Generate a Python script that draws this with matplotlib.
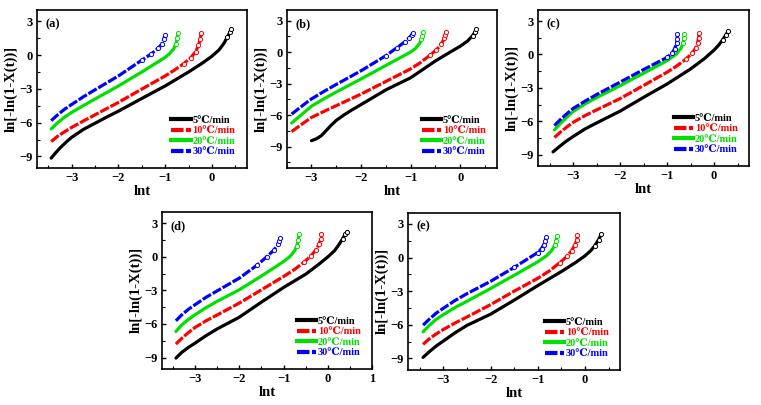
import matplotlib.pyplot as plt
from matplotlib.lines import Line2D
from matplotlib.ticker import MultipleLocator

plt.rcParams['font.family'] = ['Liberation Serif', 'DejaVu Serif', 'DejaVu Sans']
plt.rcParams['font.weight'] = 'bold'

labels = ['5\u2103/min', '10\u2103/min', '20\u2103/min', '30\u2103/min']
colors = ['black', 'red', '#00e000', 'blue']

# panel (a)
a_x5 = [-3.44, -3.35, -3.25, -3.1, -3.0, -2.75, -2.5, -2.25, -2.0, -1.5, -1.0, -0.5, -0.2, 0.0, 0.15, 0.25, 0.33, 0.39, 0.41]
a_y5 = [-9.15, -8.7, -8.25, -7.65, -7.3, -6.6, -6.05, -5.5, -4.98, -3.85, -2.74, -1.5, -0.7, -0.1, 0.45, 1.0, 1.6, 2.05, 2.3]
a_x10 = [-3.44, -3.3, -3.15, -3.0, -2.75, -2.5, -2.0, -1.5, -1.0, -0.8, -0.6, -0.45, -0.35, -0.29, -0.25, -0.23]
a_y10 = [-7.68, -7.2, -6.8, -6.42, -5.85, -5.3, -4.2, -3.02, -1.85, -1.33, -0.75, -0.22, 0.3, 0.85, 1.4, 1.95]
a_x20 = [-3.44, -3.3, -3.15, -3.0, -2.75, -2.5, -2.0, -1.5, -1.0, -0.9, -0.82, -0.77, -0.74, -0.73]
a_y20 = [-6.56, -6.0, -5.5, -5.09, -4.48, -3.9, -2.74, -1.5, -0.2, 0.15, 0.55, 1.0, 1.5, 1.95]
a_x30 = [-3.44, -3.3, -3.15, -3.0, -2.75, -2.5, -2.0, -1.5, -1.3, -1.15, -1.07, -1.03, -1.01]
a_y30 = [-5.82, -5.3, -4.8, -4.38, -3.7, -3.08, -1.85, -0.45, 0.1, 0.6, 1.0, 1.4, 1.74]

# panel (b)
b_x5 = [-3.0, -2.9, -2.8, -2.7, -2.6, -2.5, -2.35, -2.2, -2.0, -1.5, -1.0, -0.5, -0.2, 0.0, 0.15, 0.25, 0.3, 0.32]
b_y5 = [-8.43, -8.25, -7.95, -7.45, -6.95, -6.5, -6.0, -5.55, -5.0, -3.6, -2.45, -0.85, 0.0, 0.55, 1.05, 1.55, 1.9, 2.15]
b_x10 = [-3.4, -3.25, -3.1, -3.0, -2.75, -2.5, -2.0, -1.5, -1.0, -0.8, -0.61, -0.48, -0.38, -0.32, -0.3, -0.29]
b_y10 = [-7.57, -7.05, -6.55, -6.22, -5.65, -5.1, -4.0, -2.8, -1.6, -1.0, -0.3, 0.2, 0.75, 1.3, 1.65, 1.95]
b_x20 = [-3.4, -3.25, -3.1, -3.0, -2.75, -2.5, -2.0, -1.5, -1.0, -0.9, -0.82, -0.78, -0.76, -0.75]
b_y20 = [-6.75, -6.15, -5.55, -5.15, -4.45, -3.8, -2.56, -1.28, 0.0, 0.35, 0.8, 1.2, 1.55, 1.9]
b_x30 = [-3.4, -3.25, -3.1, -3.0, -2.75, -2.5, -2.0, -1.5, -1.28, -1.12, -1.03, -0.98, -0.96]
b_y30 = [-5.9, -5.35, -4.8, -4.46, -3.75, -3.08, -1.78, -0.35, 0.4, 0.95, 1.35, 1.62, 1.83]

# panel (c)
c_x5 = [-3.43, -3.3, -3.15, -3.0, -2.75, -2.5, -2.0, -1.5, -1.0, -0.5, -0.2, 0.0, 0.1, 0.18, 0.25, 0.3]
c_y5 = [-8.76, -8.3, -7.8, -7.37, -6.7, -6.15, -5.09, -3.85, -2.65, -1.3, -0.35, 0.4, 0.85, 1.3, 1.75, 2.1]
c_x10 = [-3.4, -3.25, -3.1, -3.0, -2.75, -2.5, -2.0, -1.5, -1.0, -0.8, -0.6, -0.47, -0.39, -0.35, -0.33, -0.32]
c_y10 = [-7.46, -6.9, -6.4, -6.1, -5.5, -4.98, -3.96, -2.78, -1.59, -1.05, -0.41, 0.1, 0.6, 1.05, 1.5, 1.9]
c_x20 = [-3.4, -3.25, -3.1, -3.0, -2.75, -2.5, -2.0, -1.5, -1.0, -0.8, -0.7, -0.66, -0.645, -0.64]
c_y20 = [-6.78, -6.1, -5.5, -5.12, -4.45, -3.88, -2.8, -1.68, -0.56, 0.05, 0.6, 1.05, 1.45, 1.81]
c_x30 = [-3.4, -3.25, -3.1, -3.0, -2.75, -2.5, -2.0, -1.5, -1.0, -0.9, -0.84, -0.8, -0.785, -0.78]
c_y30 = [-6.39, -5.75, -5.2, -4.85, -4.2, -3.6, -2.48, -1.35, -0.26, 0.1, 0.5, 1.0, 1.4, 1.81]

# panel (d)
d_x5 = [-3.43, -3.3, -3.15, -3.0, -2.75, -2.5, -2.0, -1.5, -1.0, -0.5, -0.2, 0.0, 0.15, 0.25, 0.33, 0.39, 0.44]
d_y5 = [-9.05, -8.55, -8.1, -7.72, -7.05, -6.45, -5.4, -4.05, -2.74, -1.55, -0.65, 0.0, 0.55, 1.1, 1.6, 2.0, 2.25]
d_x10 = [-3.43, -3.3, -3.15, -3.0, -2.75, -2.5, -2.0, -1.5, -1.0, -0.75, -0.53, -0.38, -0.27, -0.2, -0.16, -0.15]
d_y10 = [-7.8, -7.3, -6.78, -6.32, -5.72, -5.2, -4.14, -2.95, -1.76, -1.12, -0.45, 0.1, 0.62, 1.15, 1.6, 2.0]
d_x20 = [-3.43, -3.3, -3.15, -3.0, -2.75, -2.5, -2.0, -1.5, -1.0, -0.85, -0.75, -0.7, -0.67, -0.65]
d_y20 = [-6.67, -6.1, -5.6, -5.18, -4.55, -3.98, -2.95, -1.72, -0.42, 0.05, 0.55, 1.0, 1.5, 2.02]
d_x30 = [-3.43, -3.3, -3.15, -3.0, -2.75, -2.5, -2.0, -1.6, -1.38, -1.22, -1.13, -1.1, -1.08]
d_y30 = [-5.72, -5.2, -4.7, -4.29, -3.62, -3.05, -1.91, -0.75, 0.0, 0.6, 1.1, 1.45, 1.72]

# panel (e)
e_x5 = [-3.43, -3.3, -3.15, -3.0, -2.75, -2.5, -2.0, -1.5, -1.0, -0.5, -0.2, 0.0, 0.12, 0.21, 0.29, 0.35]
e_y5 = [-8.9, -8.4, -7.88, -7.44, -6.7, -6.05, -5.05, -3.8, -2.5, -1.25, -0.45, 0.15, 0.6, 1.05, 1.6, 2.1]
e_x10 = [-3.43, -3.3, -3.15, -3.0, -2.75, -2.5, -2.0, -1.5, -1.0, -0.75, -0.53, -0.38, -0.28, -0.21, -0.17, -0.16]
e_y10 = [-7.74, -7.25, -6.8, -6.41, -5.83, -5.3, -4.2, -3.0, -1.85, -1.18, -0.45, 0.1, 0.62, 1.15, 1.6, 2.03]
e_x20 = [-3.43, -3.3, -3.15, -3.0, -2.75, -2.5, -2.0, -1.5, -1.0, -0.8, -0.7, -0.64, -0.61, -0.6]
e_y20 = [-6.62, -6.05, -5.5, -5.09, -4.45, -3.9, -2.76, -1.58, -0.38, 0.2, 0.65, 1.1, 1.5, 1.91]
e_x30 = [-3.43, -3.3, -3.15, -3.0, -2.75, -2.5, -2.0, -1.5, -1.0, -0.92, -0.87, -0.84, -0.82]
e_y30 = [-6.03, -5.5, -4.95, -4.52, -3.82, -3.22, -2.12, -0.88, 0.45, 0.8, 1.15, 1.5, 1.82]

panels = [
    ('(a)', [(a_x5, a_y5), (a_x10, a_y10), (a_x20, a_y20), (a_x30, a_y30)], (-3.75, 0.75), (-10, 4), [36.7, 10, 247, 167.7]),
    ('(b)', [(b_x5, b_y5), (b_x10, b_y10), (b_x20, b_y20), (b_x30, b_y30)], (-3.5, 0.75), (-11, 4), [286.7, 10, 497.3, 167.7]),
    ('(c)', [(c_x5, c_y5), (c_x10, c_y10), (c_x20, c_y20), (c_x30, c_y30)], (-3.75, 0.75), (-10, 4), [538, 10, 749.3, 165.7]),
    ('(d)', [(d_x5, d_y5), (d_x10, d_y10), (d_x20, d_y20), (d_x30, d_y30)], (-3.75, 1.0), (-10, 4), [161.7, 212, 372.3, 368.7]),
    ('(e)', [(e_x5, e_y5), (e_x10, e_y10), (e_x20, e_y20), (e_x30, e_y30)], (-3.75, 0.75), (-10, 4), [408, 212.7, 620.3, 369.7]),
]

W, H = 761, 405
fig = plt.figure(figsize=(W / 100, H / 100), dpi=100)

styles = ['-', (0, (3, 0.6)), '-', (0, (3, 0.6))]
n_mark = [3, 6, 3, 6]

for tag, series, xl, yl, box in panels:
    l, t, r, b = box
    ax = fig.add_axes([l / W, 1 - b / H, (r - l) / W, (b - t) / H])
    for (x, y), c, ls, k in zip(series, colors, styles, n_mark):
        ax.plot(x, y, color=c, lw=2.3, ls=ls, solid_capstyle='round')
        n = len(x)
        ax.plot(x, y, ls='none', marker='o', ms=3, mfc='white', mec=c, mew=0.7,
                markevery=list(range(n - k, n)))
    ax.set_xlim(xl)
    ax.set_ylim(yl)
    ax.xaxis.set_major_locator(MultipleLocator(1))
    ax.xaxis.set_minor_locator(MultipleLocator(0.5))
    ax.yaxis.set_major_locator(MultipleLocator(3))
    ax.yaxis.set_minor_locator(MultipleLocator(1.5))
    ax.tick_params(which='both', direction='in', top=False, right=False, labelsize=9, pad=3)
    ax.tick_params(which='major', length=3, width=1)
    ax.tick_params(which='minor', length=2, width=0.8)
    for s in ax.spines.values():
        s.set_linewidth(1.2)
    ax.set_xlabel('lnt', fontsize=10.5, fontweight='bold', labelpad=1)
    ax.set_ylabel('ln[-ln(1-X(t))]', fontsize=10.5, fontweight='bold', labelpad=1)
    ax.text(0.04, 0.95, tag, transform=ax.transAxes, fontsize=9, fontweight='bold', va='top')
    handles = [Line2D([0], [0], color=c, lw=3, ls=ls) for c, ls in zip(colors, styles)]
    leg = ax.legend(handles, labels, loc='lower right', frameon=False, fontsize=7.5,
                    handlelength=1.9, handletextpad=0.15, labelspacing=0.12,
                    borderaxespad=0.7)
    for txt, c in zip(leg.get_texts(), colors):
        txt.set_color(c)
        txt.set_fontweight('bold')

fig.savefig('out.png', dpi=100)
